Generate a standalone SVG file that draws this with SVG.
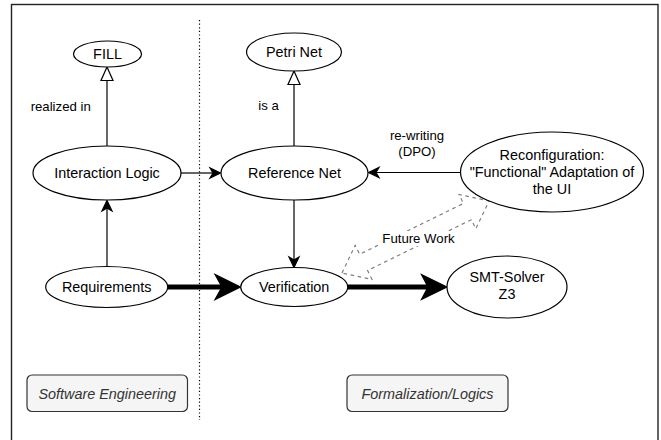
<svg xmlns="http://www.w3.org/2000/svg" width="661" height="440" viewBox="0 0 661 440">
  <style>
    .node ellipse { fill: #ffffff; stroke: #000000; stroke-width: 1.2; }
    .node text { font-family: "Liberation Sans", Arial, sans-serif; font-size: 14.4px; fill: #000000; text-anchor: middle; }
    .lane rect { fill: #f5f5f5; stroke: #333333; stroke-width: 1.2; }
    .lane text { font-family: "Liberation Sans", Arial, sans-serif; font-size: 14.4px; font-style: italic; fill: #333333; text-anchor: middle; }
    .edge { stroke: #000000; stroke-width: 1.2; fill: none; }
    .thick { stroke: #000000; stroke-width: 4.8; fill: none; }
    .head { fill: #000000; stroke: #000000; stroke-width: 1.2; stroke-linejoin: miter; }
    .hollow { fill: #ffffff; stroke: #000000; stroke-width: 1.2; }
    .label { font-family: "Liberation Sans", Arial, sans-serif; font-size: 13.2px; fill: #000000; text-anchor: middle; }
  </style>

  <!-- page frame and lane divider -->
  <rect x="11.5" y="4.5" width="646.5" height="450" fill="#ffffff" stroke="#222222" stroke-width="1.4"/>
  <line x1="199.5" y1="20" x2="199.5" y2="420" stroke="#000000" stroke-width="1.2" stroke-dasharray="1.2 2.4"/>

  <!-- connectors -->
  <g id="connectors">
    <!-- Interaction Logic realized in FILL -->
    <line class="edge" x1="107" y1="146" x2="107" y2="80.5"/>
    <path class="hollow" d="M107,67 L113,80.5 L101,80.5 Z"/>
    <!-- Reference Net is a Petri Net -->
    <line class="edge" x1="294" y1="146" x2="294" y2="84.5"/>
    <path class="hollow" d="M294,71 L300,84.5 L288,84.5 Z"/>
    <!-- Interaction Logic to Reference Net -->
    <line class="edge" x1="181" y1="173" x2="213" y2="173"/>
    <path class="head" d="M220.5,173 L210,168 L213,173 L210,178 Z"/>
    <!-- Reconfiguration to Reference Net -->
    <line class="edge" x1="460.5" y1="172.5" x2="376" y2="172.5"/>
    <path class="head" d="M368.5,172.5 L379,167.5 L376,172.5 L379,177.5 Z"/>
    <!-- Requirements to Interaction Logic -->
    <line class="edge" x1="107" y1="266.5" x2="107" y2="208"/>
    <path class="head" d="M107,200.5 L112,211 L107,208 L102,211 Z"/>
    <!-- Reference Net to Verification -->
    <line class="edge" x1="294" y1="200" x2="294" y2="260"/>
    <path class="head" d="M294,267.5 L299,257 L294,260 L289,257 Z"/>
    <!-- Requirements to Verification -->
    <line class="thick" x1="168" y1="287" x2="222" y2="287"/>
    <path class="head" d="M240.5,287 L215,274.5 L222,287 L215,299.5 Z"/>
    <!-- Verification to SMT-Solver -->
    <line class="thick" x1="347.5" y1="287" x2="428" y2="287"/>
    <path class="head" d="M447,287 L421.5,274.5 L428,287 L421.5,299.5 Z"/>
    <!-- Future Work: dashed double arrow -->
    <path d="M342,273 L355.2,245.3 L359.6,254.3 L463.4,203.5 L459,194.5 L489,201 L475.8,228.7 L471.4,219.7 L367.6,270.5 L372,279.5 Z"
          fill="none" stroke="#808080" stroke-width="1.2" stroke-dasharray="3.6 3.6"/>
    <rect x="381" y="231" width="75" height="15" fill="#ffffff"/>
    <text class="label" x="418.5" y="242.7">Future Work</text>
    <!-- edge labels -->
    <text class="label" x="60.7" y="111">realized in</text>
    <text class="label" x="268.5" y="110">is a</text>
    <text class="label" x="417" y="140">re-writing</text>
    <text class="label" x="417" y="156">(DPO)</text>
  </g>

  <!-- nodes -->
  <g id="fill" class="node">
    <ellipse cx="107.5" cy="54" rx="34" ry="13"/>
    <text x="107.5" y="59">FILL</text>
  </g>
  <g id="petri-net" class="node">
    <ellipse cx="294" cy="52" rx="47.5" ry="19"/>
    <text x="294" y="57">Petri Net</text>
  </g>
  <g id="interaction-logic" class="node">
    <ellipse cx="107" cy="173" rx="74" ry="27"/>
    <text x="107" y="178">Interaction Logic</text>
  </g>
  <g id="reference-net" class="node">
    <ellipse cx="294.5" cy="173" rx="73.5" ry="27"/>
    <text x="294.5" y="178">Reference Net</text>
  </g>
  <g id="reconfiguration" class="node">
    <ellipse cx="552" cy="172" rx="91.5" ry="40"/>
    <text x="552" y="159.5">Reconfiguration:</text>
    <text x="552" y="176.8">"Functional" Adaptation of</text>
    <text x="552" y="194.1">the UI</text>
  </g>
  <g id="requirements" class="node">
    <ellipse cx="106.7" cy="287" rx="61" ry="20.5"/>
    <text x="106.7" y="292">Requirements</text>
  </g>
  <g id="verification" class="node">
    <ellipse cx="294.2" cy="287" rx="53.5" ry="19.5"/>
    <text x="294.2" y="292">Verification</text>
  </g>
  <g id="smt-solver" class="node">
    <ellipse cx="507" cy="287" rx="60" ry="31"/>
    <text x="507" y="282">SMT-Solver</text>
    <text x="507" y="299.3">Z3</text>
  </g>

  <!-- lane captions -->
  <g id="software-engineering" class="lane">
    <rect x="27" y="375" width="160.5" height="36.5" rx="5"/>
    <text x="107.2" y="399">Software Engineering</text>
  </g>
  <g id="formalization-logics" class="lane">
    <rect x="347" y="375" width="161" height="36.5" rx="5"/>
    <text x="427.5" y="399">Formalization/Logics</text>
  </g>
</svg>
